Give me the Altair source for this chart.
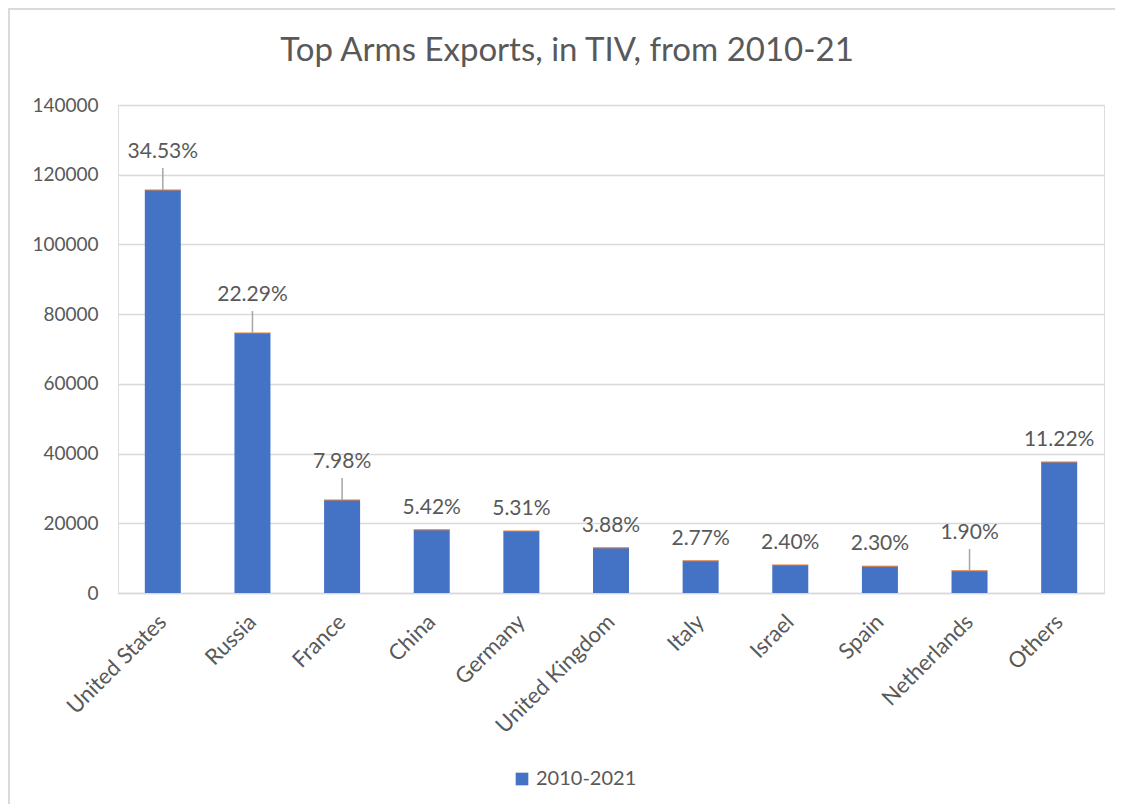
import altair as alt
import pandas as pd

countries = ["United States", "Russia", "France", "China", "Germany", "United Kingdom",
             "Italy", "Israel", "Spain", "Netherlands", "Others"]
tiv = [115600, 74600, 26700, 18150, 17780, 12990, 9270, 8030, 7700, 6360, 37560]
shares = ["34.53%", "22.29%", "7.98%", "5.42%", "5.31%", "3.88%", "2.77%", "2.40%",
          "2.30%", "1.90%", "11.22%"]
has_leader = [True, True, True, False, False, False, False, False, False, True, False]
series_name = "2010-2021"

df = pd.DataFrame({
    "country": countries,
    "tiv": tiv,
    "share": shares,
    "leader": has_leader,
    "series": [series_name] * len(countries),
})

FONT = "Lato"
GREY = "#595959"
BLUE = "#4472C4"
ORANGE = "#ED7D31"

x_enc = alt.X("country:N", sort=countries, title=None,
              scale=alt.Scale(paddingInner=0.6, paddingOuter=0.3),
              axis=alt.Axis(labelAngle=-45, labelAlign="right", labelBaseline="middle",
                            labelFontSize=22, labelColor=GREY, labelFont=FONT,
                            labelPadding=25, ticks=False, domainColor="#D9D9D9",
                            domainWidth=1.5))
y_scale = alt.Scale(domain=[0, 140000], nice=False)
y_axis = alt.Axis(values=[0, 20000, 40000, 60000, 80000, 100000, 120000, 140000],
                  format="d", labelFontSize=19, labelColor=GREY, labelFont=FONT,
                  labelPadding=20, ticks=False, domain=False, gridColor="#D9D9D9",
                  gridWidth=1.5)

base = alt.Chart(df)

bars = base.mark_bar(size=36).encode(
    x=x_enc,
    y=alt.Y("tiv:Q", scale=y_scale, axis=y_axis, title=None),
    color=alt.Color("series:N", scale=alt.Scale(range=[BLUE]),
                    legend=alt.Legend(title=None, orient="none", legendX=394, legendY=664,
                                      labelFontSize=20, labelColor=GREY, labelFont=FONT,
                                      symbolType="square", symbolSize=160,
                                      symbolStrokeWidth=0)),
)

tops = base.mark_tick(orient="horizontal", size=36, thickness=1.5, color=ORANGE).encode(
    x=alt.X("country:N", sort=countries),
    y=alt.Y("tiv:Q"),
)

leaders = base.transform_filter("datum.leader").transform_calculate(
    top="datum.tiv + 6300"
).mark_rule(color="#A6A6A6", strokeWidth=1.5).encode(
    x=alt.X("country:N", sort=countries),
    y=alt.Y("tiv:Q"),
    y2="top:Q",
)

labels_far = base.transform_filter("datum.leader").mark_text(
    font=FONT, fontSize=21, color=GREY, baseline="middle", dy=-38
).encode(x=alt.X("country:N", sort=countries), y=alt.Y("tiv:Q"), text="share:N")

labels_near = base.transform_filter("!datum.leader").mark_text(
    font=FONT, fontSize=21, color=GREY, baseline="middle", dy=-22
).encode(x=alt.X("country:N", sort=countries), y=alt.Y("tiv:Q"), text="share:N")

border_top = base.mark_rule(color="#D9D9D9", strokeWidth=1.5).encode(
    x=alt.value(-109.5), x2=alt.value(1000), y=alt.value(-96.5))
border_left = base.mark_rule(color="#D9D9D9", strokeWidth=1.5).encode(
    x=alt.value(-109.5), y=alt.value(-96.5), y2=alt.value(730))

chart = alt.layer(border_top, border_left, bars, tops, leaders, labels_far, labels_near).properties(
    width=986,
    height=488,
    autosize=alt.AutoSizeParams(type="none"),
    padding={"left": 110, "top": 97, "right": 11, "bottom": 211},
    title=alt.TitleParams("Top Arms Exports, in TIV, from 2010-21", font=FONT, fontSize=33,
                          fontWeight="normal", color=GREY, anchor="middle", dx=-44,
                          offset=-60),
).configure_view(stroke=None).configure(background="white")

chart.save("out.html", embed_options={"renderer": "svg", "actions": False})
